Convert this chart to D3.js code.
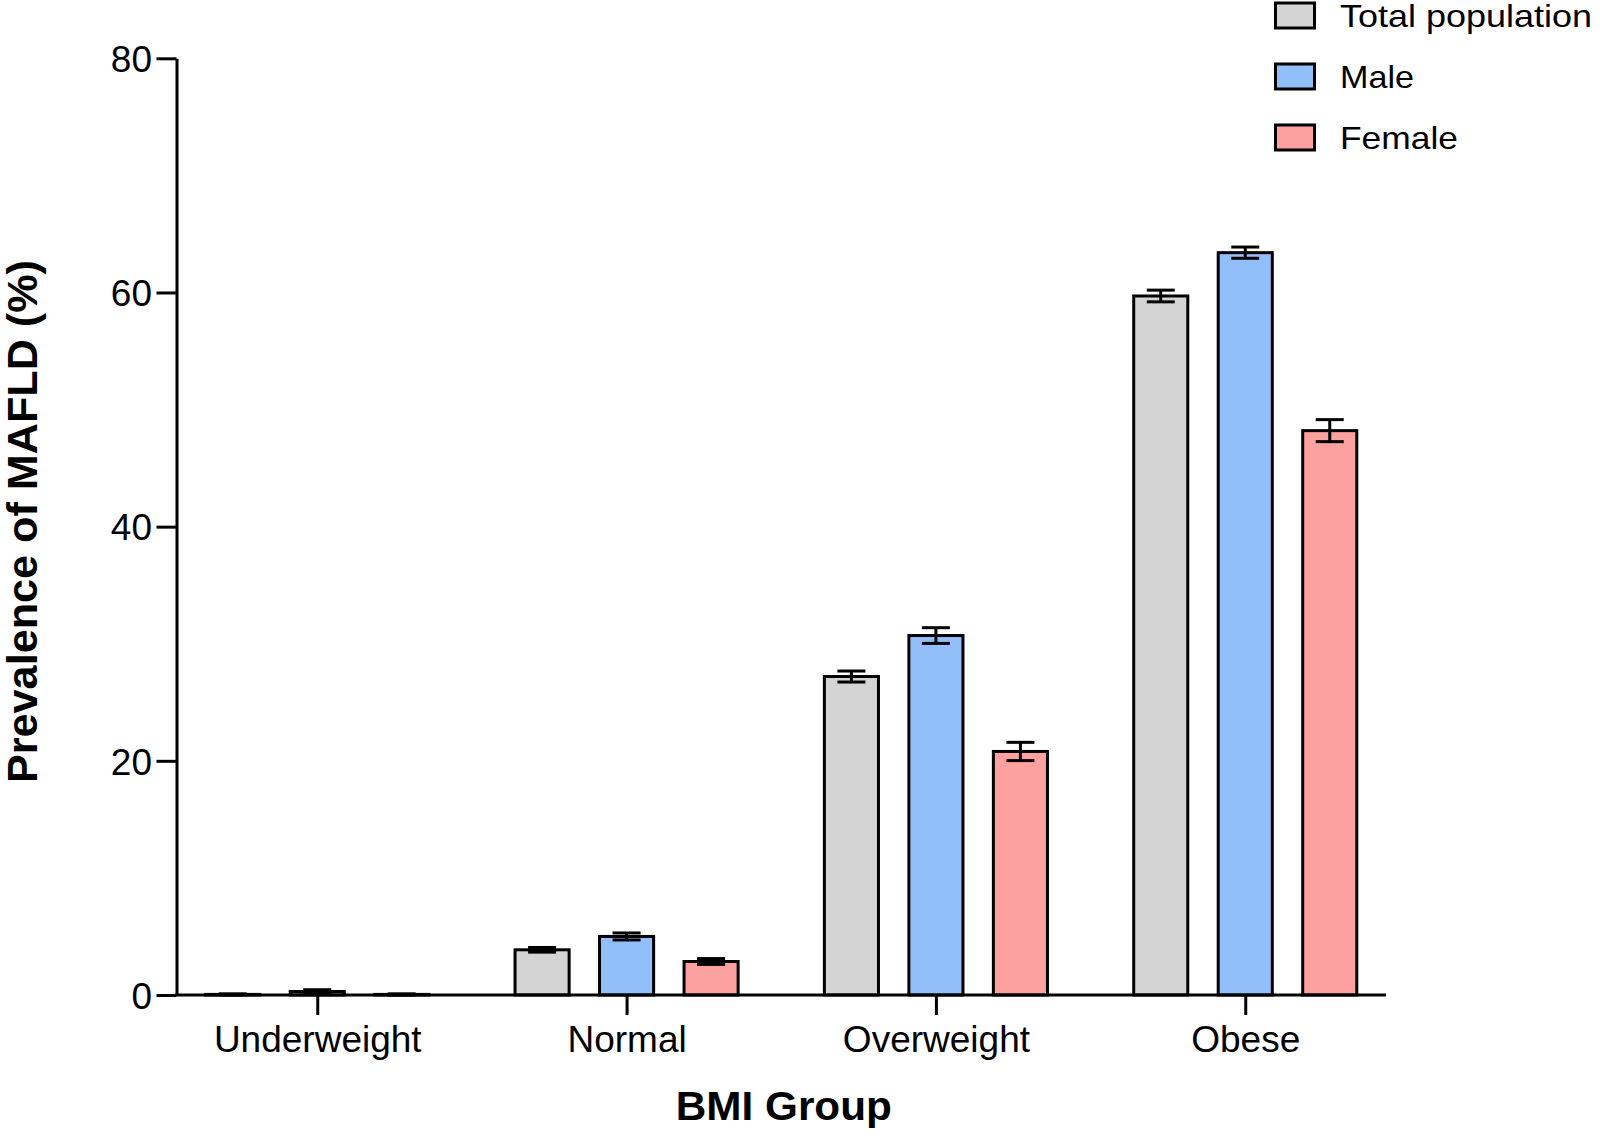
<!DOCTYPE html>
<html>
<head>
<meta charset="utf-8">
<script src="https://cdn.jsdelivr.net/npm/d3@7"></script>
<style>
  html, body { margin: 0; padding: 0; background: #fff; }
  svg { display: block; }
  text { font-family: "Liberation Sans", Arial, sans-serif; fill: #000; }
</style>
</head>
<body>
<svg id="chart" width="1600" height="1136"></svg>
<script>
// ---- data ----
const categories = ["Underweight", "Normal", "Overweight", "Obese"];
const seriesNames = ["Total population", "Male", "Female"];
const totalValues  = [0.05, 3.86, 27.2, 59.7];
const totalErrors  = [0.05, 0.2, 0.47, 0.5];
const maleValues   = [0.3, 5.0, 30.7, 63.4];
const maleErrors   = [0.15, 0.3, 0.67, 0.48];
const femaleValues = [0.05, 2.86, 20.8, 48.2];
const femaleErrors = [0.05, 0.25, 0.78, 0.94];
const yTicks = [0, 20, 40, 60, 80];
const yTitle = "Prevalence of MAFLD (%)";
const xTitle = "BMI Group";

const seriesValues = [totalValues, maleValues, femaleValues];
const seriesErrors = [totalErrors, maleErrors, femaleErrors];
const colors = ["#d4d4d4", "#92bff9", "#fca0a0"];

// ---- layout ----
const svg = d3.select("#chart");
const x0 = 176.5, x1 = 1386, yBase = 995, yTop = 58.3;
const SW = 3;

const x = d3.scalePoint().domain(categories).range([x0, x1]).padding(0.455);
const xs = d3.scaleBand().domain(seriesNames).range([-126.75, 126.75])
  .paddingInner(0.36).paddingOuter(0.18);
const y = d3.scaleLinear().domain([0, 80]).range([yBase, yTop]);

// bars
const data = [];
categories.forEach((c, i) => {
  seriesNames.forEach((s, j) => {
    data.push({ c, s, j, v: seriesValues[j][i], e: seriesErrors[j][i] });
  });
});

const g = svg.append("g");
const bars = g.selectAll("g.bar").data(data).join("g").attr("class", "bar");
bars.append("rect")
  .attr("x", d => x(d.c) + xs(d.s))
  .attr("width", xs.bandwidth())
  .attr("y", d => y(d.v))
  .attr("height", d => Math.max(0, y(0) - y(d.v)))
  .attr("fill", d => colors[d.j])
  .attr("stroke", "#000")
  .attr("stroke-width", SW);

// error bars
const capW = 28;
bars.each(function(d) {
  const cx = x(d.c) + xs(d.s) + xs.bandwidth() / 2;
  const sel = d3.select(this);
  sel.append("line").attr("x1", cx).attr("x2", cx)
    .attr("y1", y(d.v + d.e)).attr("y2", y(d.v - d.e))
    .attr("stroke", "#000").attr("stroke-width", SW);
  [d.v + d.e, d.v - d.e].forEach(val => {
    sel.append("line").attr("x1", cx - capW / 2).attr("x2", cx + capW / 2)
      .attr("y1", y(val)).attr("y2", y(val))
      .attr("stroke", "#000").attr("stroke-width", SW);
  });
});

// y axis
const yAxis = svg.append("g").attr("transform", `translate(${x0},0)`)
  .call(d3.axisLeft(y).tickValues(yTicks).tickSize(20).tickSizeOuter(0).tickPadding(4.5));
yAxis.selectAll("path, line").attr("stroke", "#000").attr("stroke-width", SW);
yAxis.selectAll("text").attr("font-size", 37).attr("font-family", null).attr("dy", "0.36em");

// x axis
const xAxis = svg.append("g").attr("transform", `translate(0,${yBase})`)
  .call(d3.axisBottom(x).tickSize(20).tickSizeOuter(0).tickPadding(11));
xAxis.select("path.domain").attr("d", `M${x0 - 1.5},0H${x1}`);
xAxis.selectAll("path, line").attr("stroke", "#000").attr("stroke-width", SW);
xAxis.selectAll("text").attr("font-size", 37).attr("font-family", null);
svg.selectAll(".domain").attr("fill", "none");

// titles
svg.append("text")
  .attr("transform", `translate(37,521.5) rotate(-90)`)
  .attr("text-anchor", "middle")
  .attr("font-size", 42).attr("font-weight", "bold")
  .attr("textLength", 523).attr("lengthAdjust", "spacingAndGlyphs")
  .text(yTitle);

svg.append("text")
  .attr("x", 783.8).attr("y", 1120)
  .attr("text-anchor", "middle")
  .attr("font-size", 40).attr("font-weight", "bold")
  .attr("textLength", 216).attr("lengthAdjust", "spacingAndGlyphs")
  .text(xTitle);

// legend
const legendWidths = [252, 74, 118];
const leg = svg.append("g");
seriesNames.forEach((s, j) => {
  const cy = 15.5 + j * 61;
  leg.append("rect").attr("x", 1275.5).attr("y", cy - 12.5)
    .attr("width", 39).attr("height", 25)
    .attr("fill", colors[j]).attr("stroke", "#000").attr("stroke-width", SW);
  leg.append("text").attr("x", 1340).attr("y", cy + 11.8)
    .attr("font-size", 32)
    .attr("textLength", legendWidths[j]).attr("lengthAdjust", "spacingAndGlyphs")
    .text(s);
});
</script>
</body>
</html>
